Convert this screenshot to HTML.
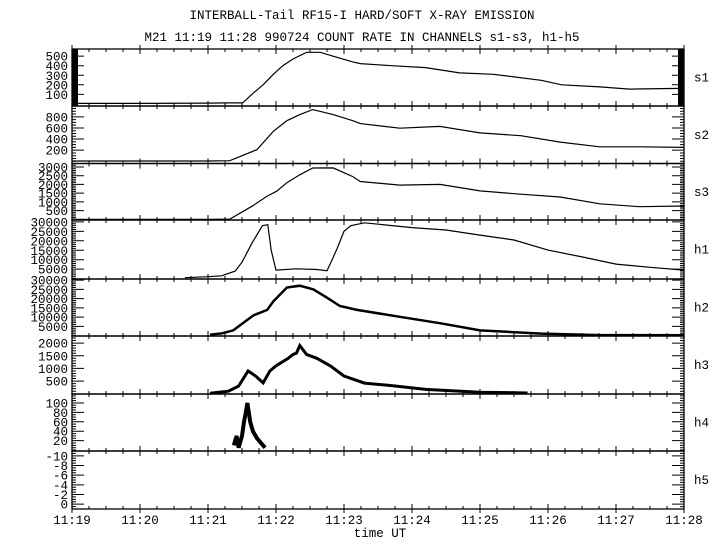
<!DOCTYPE html>
<html><head><meta charset="utf-8">
<style>
html,body{margin:0;padding:0;background:#fff;}
svg{display:block;}
text{font-family:"Liberation Mono","DejaVu Sans Mono",monospace;fill:#000;}
</style></head>
<body>
<svg id="chart" width="720" height="550" viewBox="0 0 720 550" xmlns="http://www.w3.org/2000/svg">
<text x="362" y="19" font-size="12.5" text-anchor="middle">INTERBALL-Tail RF15-I HARD/SOFT X-RAY EMISSION</text>
<text x="362" y="41" font-size="12.5" text-anchor="middle">M21  11:19 11:28 990724  COUNT RATE IN CHANNELS s1-s3, h1-h5</text>
<text x="380" y="537" font-size="12.5" text-anchor="middle">time UT</text>
<g id="plots"></g>
</svg>
<script>
// time in minutes from 11:19
const xTickLabels = ["11:19","11:20","11:21","11:22","11:23","11:24","11:25","11:26","11:27","11:28"];
const channelNames = ["s1","s2","s3","h1","h2","h3","h4","h5"];

const s1Times = [0,1,2,2.3,2.51,2.66,2.81,2.96,3.1,3.25,3.45,3.65,3.84,4.13,4.24,4.7,5.2,5.7,6.2,6.9,7.2,7.76,8.2,8.94,9];
const s1Values = [5,5,8,10,10,110,200,310,400,470,540,540,500,440,422,400,380,325,310,247,200,178,155,162,160];
const s2Times = [0,1,2,2.32,2.72,2.96,3.16,3.35,3.54,3.84,4.13,4.24,4.82,5.41,6.0,6.6,7.18,7.76,8.35,9];
const s2Values = [5,5,5,10,210,540,730,840,930,840,730,678,595,628,510,460,345,260,260,250];
const s3Times = [0,1,2,2.32,2.66,2.87,3.01,3.16,3.35,3.54,3.84,4.13,4.24,4.82,5.41,6.0,6.6,7.18,7.76,8.35,9];
const s3Values = [0,0,0,10,780,1330,1610,2100,2550,2940,2950,2450,2170,1960,2000,1630,1440,1280,890,720,760];
const h1Times = [1.66,2.0,2.2,2.4,2.5,2.65,2.8,2.88,2.93,3.0,3.3,3.6,3.75,3.8,3.9,4.0,4.1,4.3,5.0,5.5,6.0,6.5,7.0,7.5,8.0,8.5,9];
const h1Values = [500,1000,1500,4000,8700,19000,28000,28500,15000,4500,5200,4800,4200,8000,16000,25000,28000,29500,27000,25700,23000,20400,15100,11500,7700,6000,4500];
const h2Times = [2.03,2.2,2.37,2.57,2.67,2.87,2.96,3.16,3.35,3.55,3.75,3.94,4.19,4.82,5.41,6.0,6.9,7.76,9];
const h2Values = [500,1200,2800,8300,11000,13900,18500,26000,27000,25000,20500,16000,13900,10200,6700,2800,1100,300,200];
const h3Times = [2.03,2.3,2.45,2.59,2.7,2.81,2.91,3.0,3.18,3.25,3.3,3.35,3.45,3.6,3.8,4.0,4.3,4.7,5.2,6.0,6.7];
const h3Values = [20,100,300,900,700,430,900,1100,1400,1550,1600,1900,1550,1400,1100,700,420,320,170,60,30];
const h4Times = [2.38,2.42,2.45,2.5,2.53,2.55,2.58,2.6,2.62,2.66,2.72,2.78,2.84];
const h4Values = [10,30,5,30,60,75,100,80,60,40,25,15,5];

const panels = [
  {name:"s1", min:-22, max:575, ticks:[500,400,300,200,100], labels:["500","400","300","200","100"], minor:20, t:s1Times, v:s1Values, w:1.2},
  {name:"s2", min:-40, max:995, ticks:[800,600,400,200], labels:["800","600","400","200"], minor:50, t:s2Times, v:s2Values, w:1.2},
  {name:"s3", min:-40, max:3200, ticks:[3000,2500,2000,1500,1000,500], labels:["3000","2500","2000","1500","1000","500"], minor:100, t:s3Times, v:s3Values, w:1.2},
  {name:"h1", min:-200, max:31000, ticks:[30000,25000,20000,15000,10000,5000], labels:["30000","25000","20000","15000","10000","5000"], minor:1000, t:h1Times, v:h1Values, w:1.2},
  {name:"h2", min:-200, max:30600, ticks:[30000,25000,20000,15000,10000,5000], labels:["30000","25000","20000","15000","10000","5000"], minor:1000, t:h2Times, v:h2Values, w:2.5},
  {name:"h3", min:-10, max:2280, ticks:[2000,1500,1000,500], labels:["2000","1500","1000","500"], minor:100, t:h3Times, v:h3Values, w:3},
  {name:"h4", min:-2, max:119, ticks:[100,80,60,40,20], labels:["100","80","60","40","20"], minor:5, t:h4Times, v:h4Values, w:4},
  {name:"h5", min:1, max:-11, ticks:[-10,-8,-6,-4,-2,0], labels:["-10","-8","-6","-4","-2","0"], minor:0.5, t:[], v:[], w:1}
];
const bounds = [49,106,163.5,220,279,336,394,451,509];
const X0 = 72, X1 = 684, TMAX = 9;
const NS = "http://www.w3.org/2000/svg";
const g = document.getElementById('plots');
function xs(t){ return X0 + (X1 - X0) * t / TMAX; }
function mk(tag, attrs){ const e = document.createElementNS(NS, tag); for (const k in attrs) e.setAttribute(k, attrs[k]); return e; }

panels.forEach((p, i) => {
  const top = bounds[i], bot = bounds[i+1];
  const ys = v => bot - (v - p.min) / (p.max - p.min) * (bot - top);
  const pg = mk('g', {});
  
  
  g.appendChild(pg);
  const fr = mk('rect', {x:X0, y:top, width:X1-X0, height:bot-top, fill:'none', stroke:'#000', 'stroke-width':1.3});
  
  
  pg.appendChild(fr);
  let d = '';
  for (let q = 0; q <= TMAX * 4; q++) {
    const x = xs(q / 4), big = q % 4 === 0;
    const L = big ? 5 : 3;
    d += `M${x},${top - (big?4:0)}v${L + (big?4:0)}M${x},${bot - L}v${L + (big?4:0)}`;
  }
  const lo = Math.min(p.min, p.max), hi = Math.max(p.min, p.max);
  for (let v = Math.ceil(lo / p.minor) * p.minor; v <= hi; v += p.minor) {
    const y = ys(v);
    if (y < top || y > bot) continue;
    d += `M${X0},${y}h4M${X1},${y}h-4`;
  }
  p.ticks.forEach(v => { const y = ys(v); d += `M${X0},${y}h12M${X1},${y}h-12`; });
  const tk = mk('path', {d:d, stroke:'#000', 'stroke-width':1, fill:'none'});
  
  
  pg.appendChild(tk);
  if (i === 0) {
    const b1 = mk('rect', {x:X0, y:top, width:6, height:bot-top, fill:'#000'});
    
    
    pg.appendChild(b1);
    const b2 = mk('rect', {x:X1-6, y:top, width:6, height:bot-top, fill:'#000'});
    
    
    pg.appendChild(b2);
  }
  p.ticks.forEach((v, k) => {
    const tx = mk('text', {x:68, y:ys(v) + 4.5, 'font-size':12.5, 'text-anchor':'end'});
    
    
    tx.textContent = p.labels[k];
    pg.appendChild(tx);
  });
  const cl = mk('text', {x:694, y:(top + bot) / 2 + 4, 'font-size':12.5});
  
  
  cl.textContent = channelNames[i];
  pg.appendChild(cl);
  if (p.t.length) {
    let sd = '';
    p.t.forEach((t, k) => { sd += (k ? 'L' : 'M') + xs(t).toFixed(1) + ',' + ys(p.v[k]).toFixed(1); });
    const ln = mk('path', {d:sd, fill:'none', stroke:'#000', 'stroke-width':p.w, 'stroke-linejoin':'miter'});
    
    
    pg.appendChild(ln);
  }
});
xTickLabels.forEach((s, k) => {
  const tx = mk('text', {x:xs(k), y:524, 'font-size':12.5, 'text-anchor':'middle'});
  
  
  tx.textContent = s;
  g.appendChild(tx);
});
</script>
</body></html>
